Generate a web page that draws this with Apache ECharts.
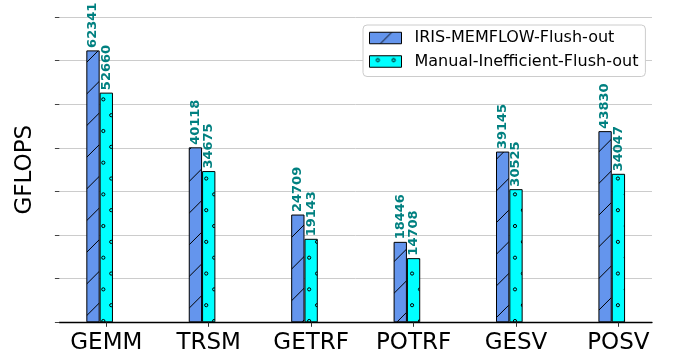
<!DOCTYPE html>
<html>
<head>
<meta charset="utf-8">
<script src="https://cdn.jsdelivr.net/npm/echarts@6/dist/echarts.min.js"></script>
<style>
  html, body { margin: 0; padding: 0; background: #fff; }
  #chart { width: 673px; height: 358px; }
</style>
</head>
<body>
<div id="chart"></div>
<script>
// Kernels and measured throughput (GFLOPS)
const categories = ['GEMM', 'TRSM', 'GETRF', 'POTRF', 'GESV', 'POSV'];
const irisMemflow = [62341, 40118, 24709, 18446, 39145, 43830];
const manualInefficient = [52660, 34675, 19143, 14708, 30525, 34047];
const seriesNames = ['IRIS-MEMFLOW-Flush-out', 'Manual-Inefficient-Flush-out'];

const FONT = 'DejaVu Sans';
const BAR_W = 0.13;   // bar width in category units; first bar sits one width left of the tick
const HATCH = 95;     // pattern tile size (3 hatch periods)

// Diagonal "/" hatch over cornflower blue
function slashPattern() {
  const c = document.createElement('canvas');
  c.width = HATCH; c.height = HATCH;
  const g = c.getContext('2d');
  g.fillStyle = '#6495ED';
  g.fillRect(0, 0, HATCH, HATCH);
  g.strokeStyle = '#000';
  g.lineWidth = 1;
  const p = HATCH / 3, phase = 22.3;
  for (let k = -2; k <= 8; k++) {
    const s = phase + k * p; // line x + y = s
    g.beginPath();
    g.moveTo(s - HATCH - 5, HATCH + 5);
    g.lineTo(s + 5, -5);
    g.stroke();
  }
  return { image: c, repeat: 'repeat' };
}

// Staggered small circles over cyan
function circlePattern() {
  const c = document.createElement('canvas');
  c.width = HATCH; c.height = HATCH;
  const g = c.getContext('2d');
  g.fillStyle = '#00FFFF';
  g.fillRect(0, 0, HATCH, HATCH);
  g.strokeStyle = '#000';
  g.lineWidth = 1;
  const step = HATCH / 6;
  for (let r = -1; r <= 6; r++) {
    for (let col = -1; col <= 7; col++) {
      const x = 8.32 + col * step + (Math.abs(r) % 2 ? step / 2 : 0);
      const y = 4.36 + r * step;
      g.beginPath();
      g.arc(x, y, 1.6, 0, Math.PI * 2);
      g.stroke();
    }
  }
  return { image: c, repeat: 'repeat' };
}

const fills = [slashPattern(), circlePattern()];

function barSeries(name, values, offset, fill) {
  return {
    name: name,
    type: 'bar',
    barWidth: '100%',
    barGap: '-100%',
    itemStyle: { color: fill, borderColor: '#000', borderWidth: 1 },
    label: {
      show: true,
      position: 'top',
      rotate: 90,
      align: 'left',
      verticalAlign: 'middle',
      distance: 2.5,
      color: '#008080',
      fontFamily: FONT,
      fontWeight: 'bold',
      fontSize: 13,
      formatter: p => String(p.value[1])
    },
    emphasis: { disabled: true },
    data: values.map((v, i) => [i + offset, v])
  };
}

const chart = echarts.init(document.getElementById('chart'), null, { renderer: 'canvas' });
chart.setOption({
  animation: false,
  backgroundColor: '#fff',
  textStyle: { fontFamily: FONT },
  grid: { left: 59.4, right: 21, top: 17, bottom: 35.7, containLabel: false },
  legend: {
    orient: 'vertical',
    left: 363,
    top: 25,
    padding: [5, 7, 7, 6],
    itemGap: 7.5,
    itemWidth: 32,
    itemHeight: 11.5,
    icon: 'rect',
    backgroundColor: '#fff',
    borderColor: '#cccccc',
    borderWidth: 1,
    borderRadius: 4,
    textStyle: { fontFamily: FONT, fontSize: 16, color: '#000', padding: [0, 0, 0, 8] },
    data: seriesNames.map((n, i) => ({
      name: n,
      itemStyle: { color: fills[i], borderColor: '#000', borderWidth: 1 }
    }))
  },
  xAxis: {
    type: 'value',
    min: -0.458,
    max: 5.328,
    splitLine: { show: false },
    axisLine: { show: true, onZero: false, lineStyle: { color: '#000', width: 1.3 } },
    axisTick: {
      show: true,
      customValues: categories.map((c, i) => i),
      length: 4.5,
      lineStyle: { color: '#333', width: 1 }
    },
    axisLabel: {
      show: true,
      customValues: categories.map((c, i) => i),
      formatter: v => categories[Math.round(v)] || '',
      fontFamily: FONT,
      fontSize: 23,
      color: '#000',
      margin: 9
    }
  },
  yAxis: {
    type: 'value',
    min: 0,
    max: 70000,
    interval: 10000,
    name: 'GFLOPS',
    nameLocation: 'middle',
    nameGap: 23,
    nameTextStyle: { fontFamily: FONT, fontSize: 23, color: '#000' },
    axisLine: { show: false, onZero: false },
    axisTick: { show: true, length: 4.5, lineStyle: { color: '#444', width: 1 } },
    axisLabel: { show: false },
    splitLine: { show: true, lineStyle: { color: '#cccccc', width: 1 } }
  },
  series: [
    barSeries(seriesNames[0], irisMemflow, -BAR_W, fills[0]),
    barSeries(seriesNames[1], manualInefficient, 0, fills[1])
  ]
});
</script>
</body>
</html>
